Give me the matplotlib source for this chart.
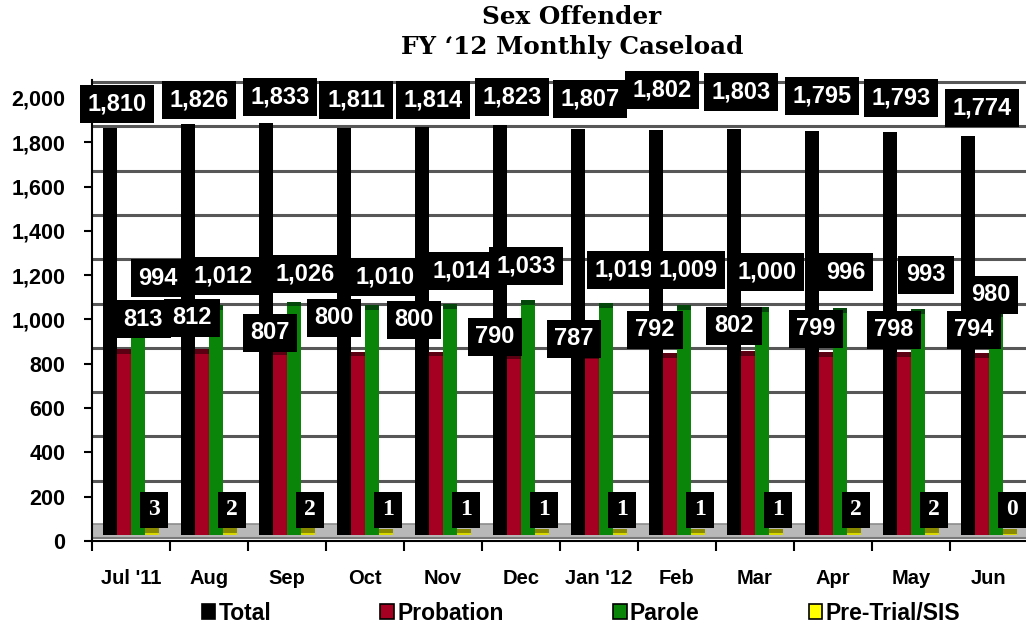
import matplotlib.pyplot as plt
from matplotlib.patches import Patch, Rectangle

months = ["Jul '11", "Aug", "Sep", "Oct", "Nov", "Dec", "Jan '12", "Feb", "Mar", "Apr", "May", "Jun"]
total = [1810, 1826, 1833, 1811, 1814, 1823, 1807, 1802, 1803, 1795, 1793, 1774]
probation = [813, 812, 807, 800, 800, 790, 787, 792, 802, 799, 798, 794]
parole = [994, 1012, 1026, 1010, 1014, 1033, 1019, 1009, 1000, 996, 993, 980]
pretrial = [3, 2, 2, 1, 1, 1, 1, 1, 1, 2, 2, 0]

series_names = ['Total', 'Probation', 'Parole', 'Pre-Trial/SIS']
colors = ['#000000', '#a50021', '#0a850a', '#d8d800']
cap_colors = ['#000000', '#5a0012', '#03470a', '#8a8a00']
legend_colors = ['#000000', '#a50021', '#0a850a', '#ffff00']

# label nudges (x in px from category centre, y in data units above value) - hand placed like in excel
total_dx = [-14, -10, -7, -9, -10, -9, -9, -15, -14, -11, -10, -7]
total_dy = [163, 165, 172, 180, 177, 182, 188, 234, 224, 214, 207, 181]
prob_dx = [12, -17, -17, -31, -29, -26, -25, -22, -21, -17, -17, -15]
prob_dy = [189, 195, 132, 207, 198, 131, 125, 161, 169, 158, 155, 159]
par_dx = [27, 14, 18, 20, 19, 5, 25, 11, 12, 13, 15, 2]
par_dy = [193, 184, 179, 182, 205, 209, 204, 214, 214, 218, 208, 131]
pre_dx = [23] * 12
pre_y = 140

W, H = 1026, 629
fig = plt.figure(figsize=(W / 100, H / 100), dpi=100)
ax = fig.add_axes([92 / W, (H - 541) / H, 936 / W, 461 / H])

ymax = 2081
ax.set_xlim(-0.5, 11.5)
ax.set_ylim(0, ymax)
px = 1 / 78.0          # one pixel in x data units
py = ymax / 461.0      # one pixel in y data units

# fake 3d: bars start a bit above the axis and tops are lifted
base = 27
lift = 55
wall = 72
width = 0.18
offsets = [-0.27, -0.09, 0.09, 0.27]
data = [total, probation, parole, pretrial]

# floor
ax.axhspan(15, 75, color='#b8b8b8', zorder=1, lw=0)
ax.axhline(75, color='#8c8c8c', lw=1.2, zorder=1.1)
ax.axhline(15, color='#7a7a7a', lw=1.5, zorder=1.1)

# back wall gridlines
for t in range(200, 2001, 200):
  ax.axhline(t + wall, color='#3a3a3a', lw=2.2, zorder=0.5, alpha=0.85)

x = list(range(len(months)))
for s in range(4):
  xs = [i + offsets[s] for i in x]
  tops = [v + lift for v in data[s]]
  ax.bar(xs, [t - base for t in tops], width=width, bottom=base, color=colors[s],
         edgecolor='none', zorder=2 + s * 0.01)
  if s > 0:
    ax.bar(xs, [22] * len(xs), width=width, bottom=[t - 22 for t in tops],
           color=cap_colors[s], edgecolor='none', zorder=2.05)

ax.spines['top'].set_visible(False)
ax.spines['right'].set_visible(False)
ax.spines['left'].set_linewidth(1.5)
ax.spines['bottom'].set_linewidth(1.5)

ax.set_yticks(range(0, 2001, 200))
ax.set_yticklabels([f'{t:,}' for t in range(0, 2001, 200)])
ax.set_xticks([i - 0.5 for i in x] + [11.5], minor=False)
ax.set_xticklabels([''] * 13)
ax.set_xticks(x, minor=True)
ax.set_xticklabels(months, minor=True)
ax.tick_params(axis='x', which='minor', length=0, pad=20.5)
ax.tick_params(axis='x', which='major', length=7, width=1.5, direction='out')
ax.tick_params(axis='y', length=6, width=1.5, pad=13)
for lab in ax.get_yticklabels():
  lab.set_fontsize(15.5)
  lab.set_fontweight('bold')
  lab.set_fontfamily('Liberation Sans')
for lab in ax.get_xticklabels(minor=True):
  lab.set_fontsize(14.5)
  lab.set_fontweight('bold')
  lab.set_fontfamily('Liberation Sans')

box = dict(boxstyle='square,pad=0.33', fc='black', ec='none')


def put_labels(vals, dxs, ys, z):
  for i, v in enumerate(vals):
    ax.text(i + dxs[i] * px, ys[i], f'{v:,}', ha='center', va='center', color='white',
            fontsize=17, fontweight='bold', family='Liberation Sans', bbox=box,
            clip_on=False, zorder=z)


put_labels(total, total_dx, [v + d for v, d in zip(total, total_dy)], 5)
put_labels(parole, par_dx, [v + d for v, d in zip(parole, par_dy)], 6)
put_labels(probation, prob_dx, [v + d for v, d in zip(probation, prob_dy)], 7)

# small pre-trial boxes: fixed size black squares with serif digits
for i, v in enumerate(pretrial):
  cx = i + pre_dx[i] * px
  ax.add_patch(Rectangle((cx - 14 * px, pre_y - 18 * py), 28 * px, 36 * py,
                         fc='black', ec='none', zorder=8, clip_on=False))
  ax.text(cx, pre_y, str(v), ha='center', va='center', color='white', fontsize=17,
          fontweight='bold', family='Liberation Serif', zorder=8.5)

fig.text(572 / W, 1 - 17 / H, 'Sex Offender', ha='center', va='center',
         fontsize=17.7, fontweight='bold', family='DejaVu Serif')
fig.text(572 / W, 1 - 47 / H, 'FY \u201812 Monthly Caseload', ha='center', va='center',
         fontsize=17.7, fontweight='bold', family='DejaVu Serif')

handles = [Patch(facecolor=legend_colors[i], edgecolor='black', lw=1.2) for i in range(4)]
fig.legend(handles, series_names, loc='center', bbox_to_anchor=(581 / W, 1 - 613 / H), ncol=4,
           frameon=False, handlelength=0.6, handleheight=0.6, handletextpad=0.15,
           columnspacing=4.75, prop={'family': 'Liberation Sans', 'weight': 'bold', 'size': 16.5})

fig.savefig('out.png', dpi=100)
